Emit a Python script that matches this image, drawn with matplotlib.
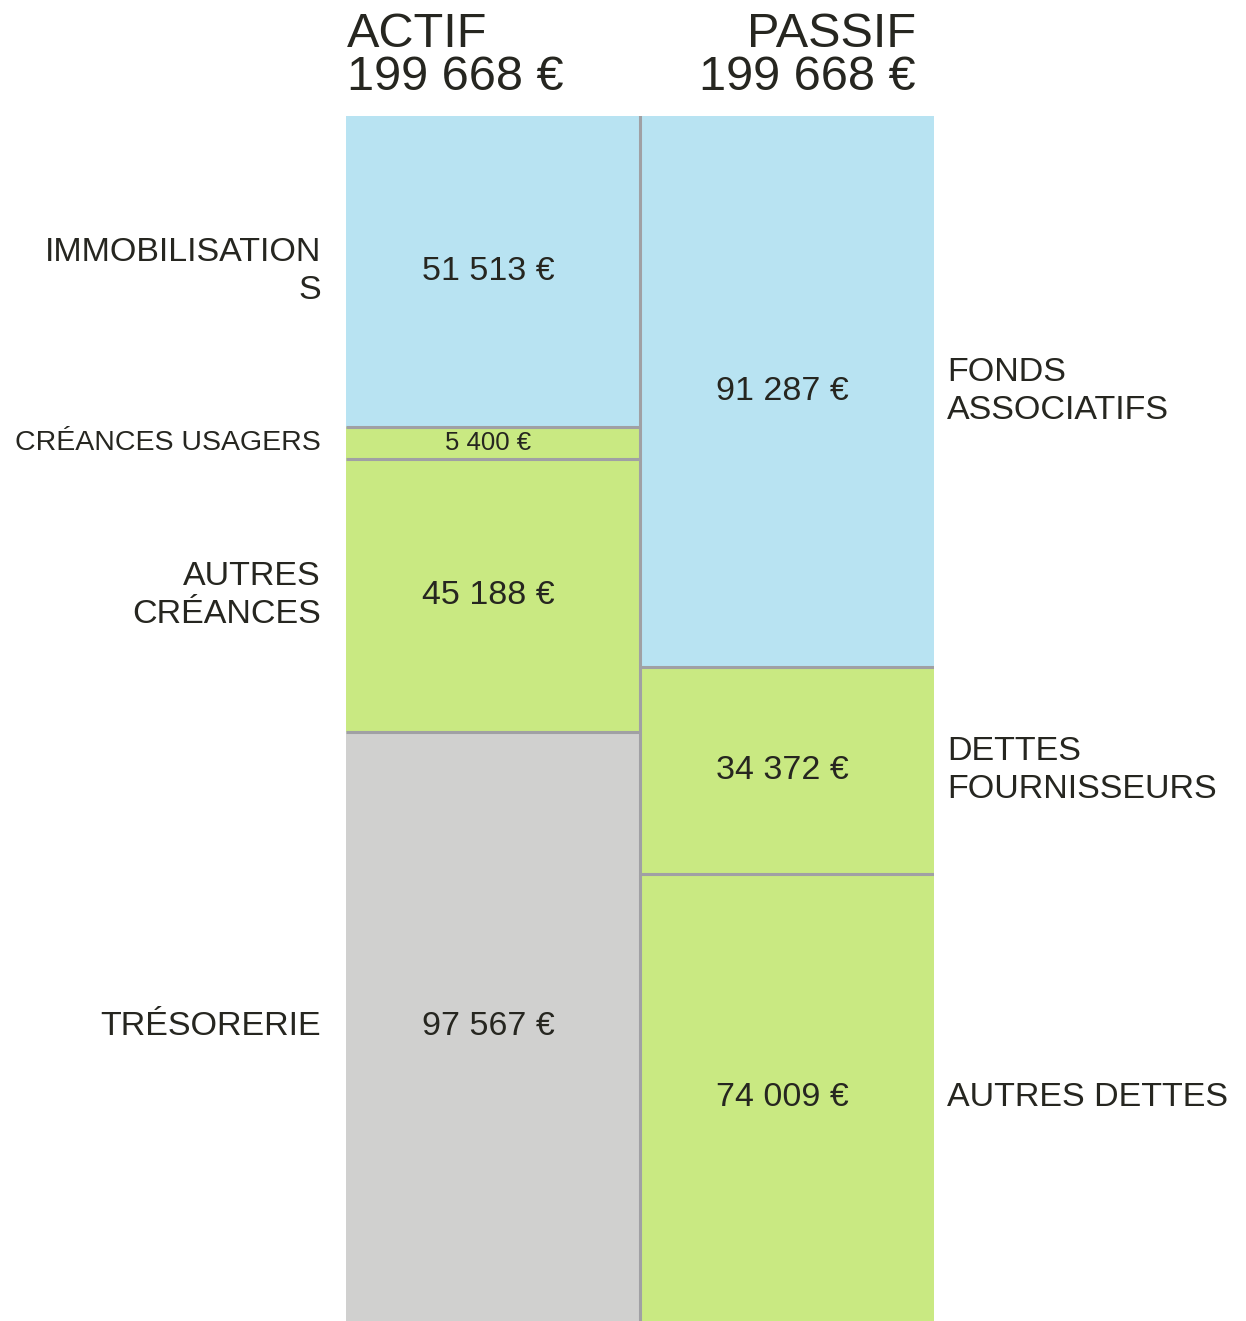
import matplotlib
matplotlib.use("Agg")
import matplotlib.pyplot as plt
import numpy as np

plt.rcParams['font.family'] = ['Liberation Sans', 'DejaVu Sans']

# ---- data ----
actif_labels = ["IMMOBILISATION\nS", "CRÉANCES USAGERS", "AUTRES\nCRÉANCES", "TRÉSORERIE"]
actif_values = [51513, 5400, 45188, 97567]
actif_kinds = ["fixed", "debt", "debt", "cash"]

passif_labels = ["FONDS\nASSOCIATIFS", "DETTES\nFOURNISSEURS", "AUTRES DETTES"]
passif_values = [91287, 34372, 74009]
passif_kinds = ["fixed", "debt", "debt"]

titles = ["ACTIF", "PASSIF"]

colors = {"fixed": "#b8e3f2", "debt": "#c9e982", "cash": "#d0d0cf"}
sep_color = "#a0a0a4"
txt_color = "#262620"

def fmt(v):
    return f"{v:,}".replace(",", " ") + " €"

W, H = 1246, 1321
fig = plt.figure(figsize=(W / 100, H / 100), dpi=100)
x0, x1 = 346, 934
ytop = 116
ax = fig.add_axes([x0 / W, 0, (x1 - x0) / W, (H - ytop) / H])
ax.set_axis_off()

total = sum(actif_values)
ax.set_xlim(0, 2)
ax.set_ylim(total, 0)

lw = 2.2  # ~3 px
FS_LAB = 24.5
FS_VAL = 24.5

def draw_column(xc, values, kinds, labels, side):
    cum = np.concatenate([[0], np.cumsum(values)])
    ax.bar(np.full(len(values), xc), values, bottom=cum[:-1], width=1, align='edge',
           color=[colors[k] for k in kinds], linewidth=0)
    for b in cum[1:-1]:
        ax.plot([xc, xc + 1], [b, b], color=sep_color, lw=lw, solid_capstyle='butt', zorder=3)
    for i, v in enumerate(values):
        mid = (cum[i] + cum[i + 1]) / 2
        small = v < 10000
        ax.text(xc + 0.5 - 0.017, mid, fmt(v), ha='center', va='center',
                fontsize=18.5 if small else FS_VAL, color=txt_color, zorder=4)
        if side == 'left':
            ax.text(-0.085, mid, labels[i], ha='right', va='center', ma='right',
                    fontsize=20.5 if small else FS_LAB, color=txt_color,
                    linespacing=1.28, clip_on=False)
        else:
            ax.text(2.045, mid, labels[i], ha='left', va='center', ma='left',
                    fontsize=FS_LAB, color=txt_color, linespacing=1.28, clip_on=False)

draw_column(0, actif_values, actif_kinds, actif_labels, 'left')
draw_column(1, passif_values, passif_kinds, passif_labels, 'right')

ax.plot([1, 1], [0, total], color=sep_color, lw=lw, zorder=5)

# titles
FS_T = 35
fig.text(347 / W, 1 - 47 / H, titles[0], ha='left', va='baseline', fontsize=FS_T, color=txt_color)
fig.text(347 / W, 1 - 90 / H, fmt(sum(actif_values)), ha='left', va='baseline', fontsize=FS_T, color=txt_color)
fig.text(916 / W, 1 - 47 / H, titles[1], ha='right', va='baseline', fontsize=FS_T, color=txt_color)
fig.text(916 / W, 1 - 90 / H, fmt(sum(passif_values)), ha='right', va='baseline', fontsize=FS_T, color=txt_color)

fig.savefig("out.png", dpi=100, facecolor='white')
